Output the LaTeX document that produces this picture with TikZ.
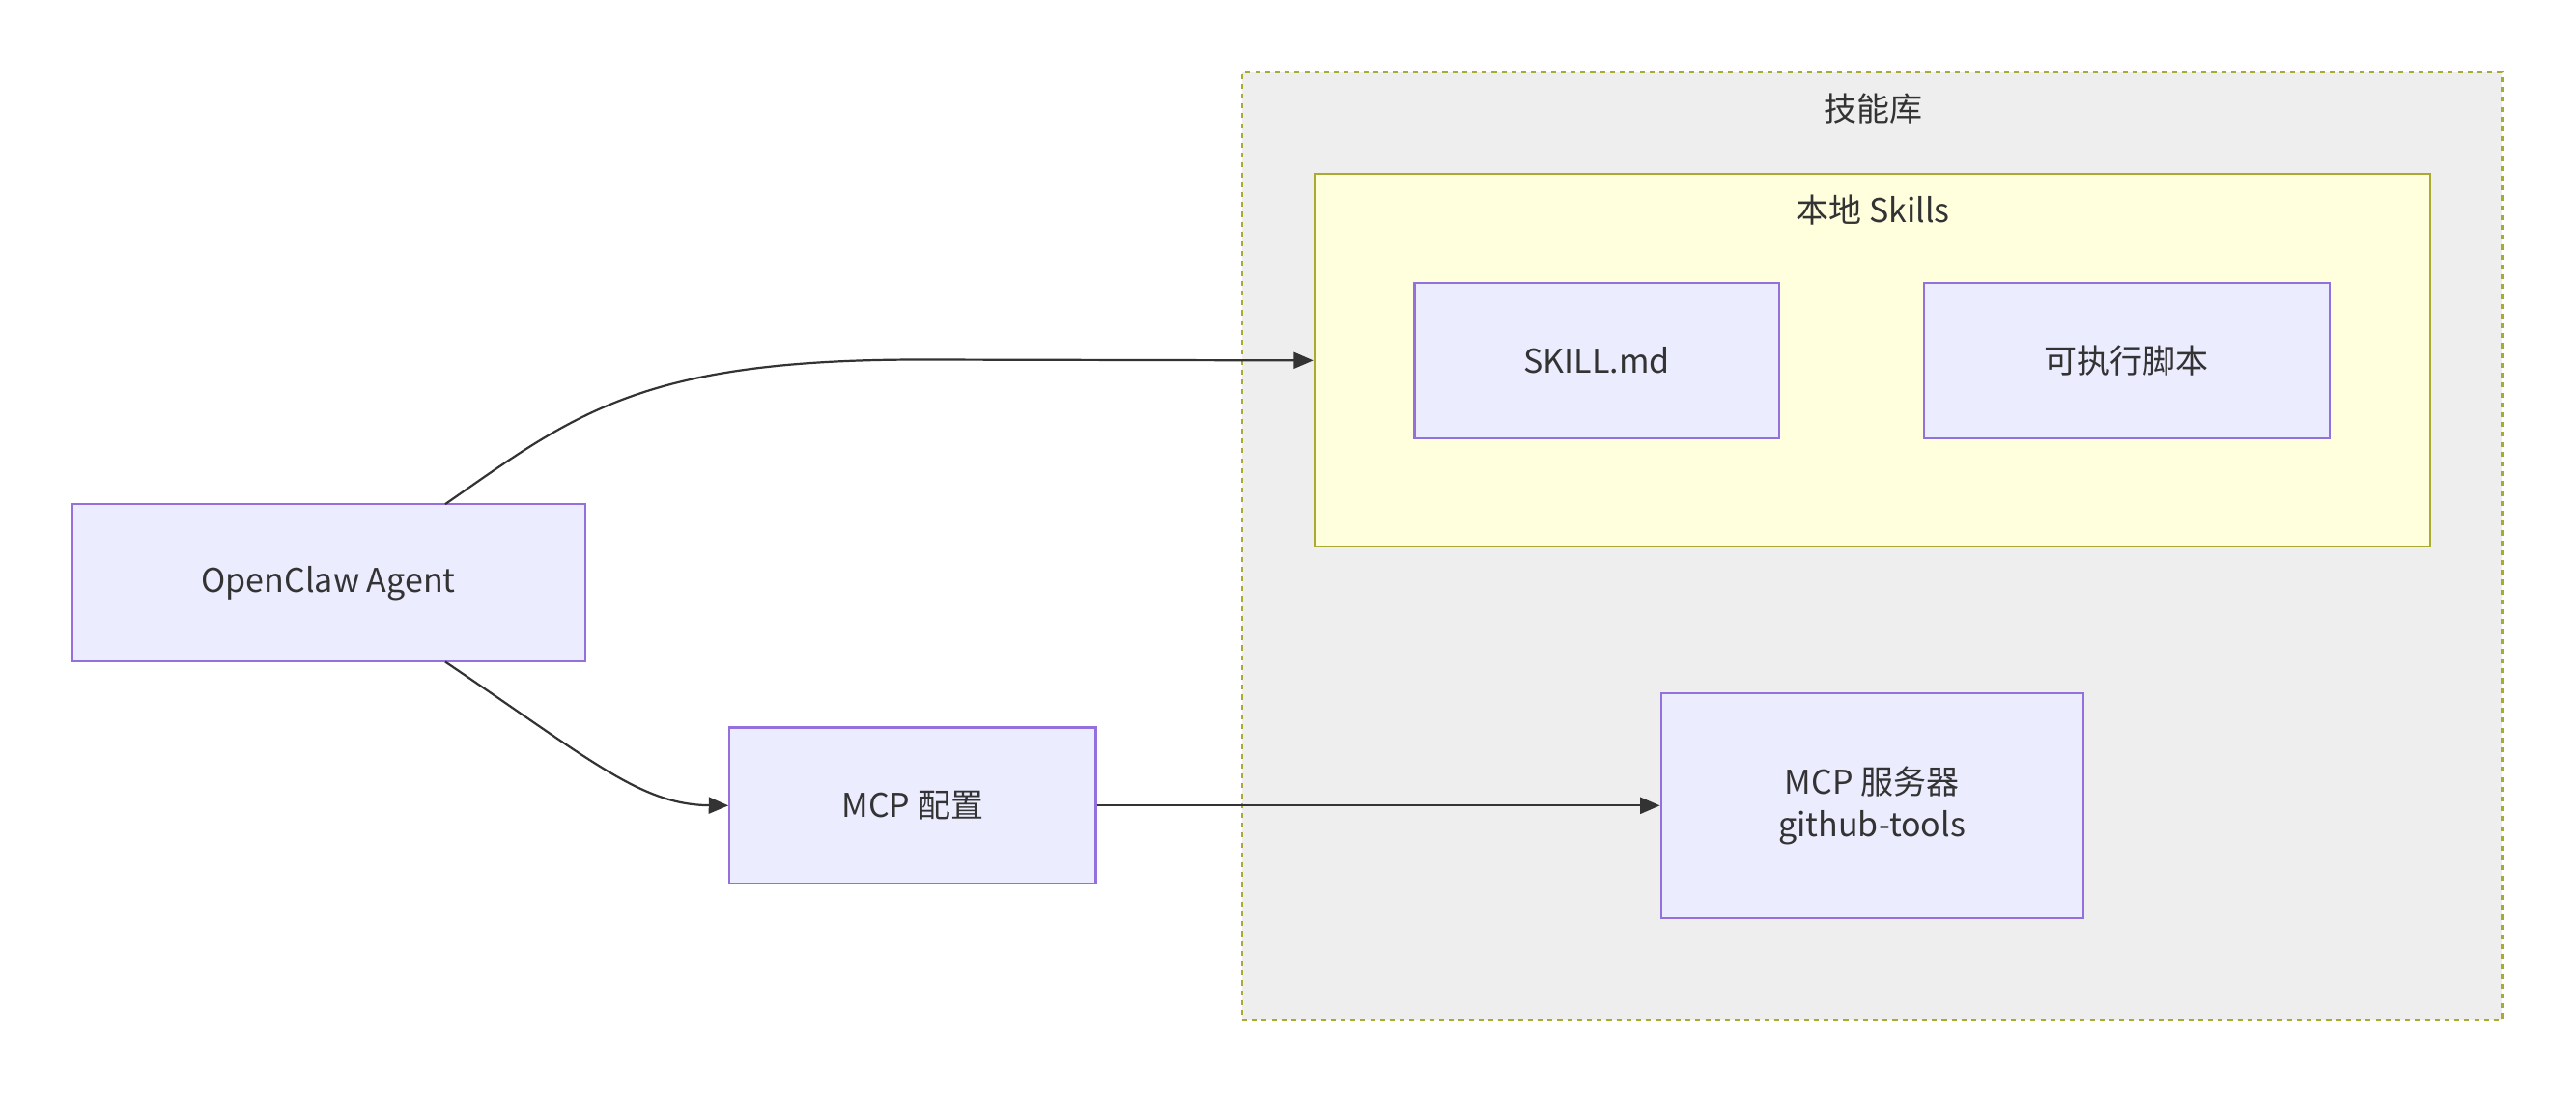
\documentclass[tikz,border=0pt]{standalone}
\usepackage{fontspec}
\setmainfont{Noto Sans CJK SC}
\usetikzlibrary{positioning, arrows.meta}
\definecolor{nodefill}{HTML}{ECECFF}
\definecolor{nodeline}{HTML}{9370DB}
\definecolor{clusterline}{HTML}{AAAA33}
\definecolor{innerfill}{HTML}{FFFFDE}
\definecolor{outerfill}{HTML}{EEEEEE}
\definecolor{edgecolor}{HTML}{333333}
\begin{document}
\begin{tikzpicture}[x=1pt,y=-1pt,font=\fontsize{20}{26}\selectfont,
    box/.style={draw=nodeline,fill=nodefill,line width=1.2pt,inner sep=0pt,align=center,text=edgecolor},
    flow/.style={draw=edgecolor,line width=1.3pt,-{Triangle[length=12pt,width=10pt]}}]

  \useasboundingbox (0,0) rectangle (1568,665);

  % clusters
  \node[draw=clusterline,fill=outerfill,dashed,line width=1.2pt,minimum width=767pt,minimum height=577pt,inner sep=0pt] (lib) at (1139.5,332.5) {};
  \node[text=edgecolor] at (1140,66) {技能库};
  \node[draw=clusterline,fill=innerfill,line width=1.2pt,minimum width=679pt,minimum height=227pt,inner sep=0pt] (local) at (1139.5,219.5) {};
  \node[text=edgecolor] at (1140,128) {本地 Skills};

  % nodes
  \node[box,minimum width=222pt,minimum height=95pt] (skill) at (972,219.5) {SKILL.md};
  \node[box,minimum width=247pt,minimum height=95pt] (script) at (1294.5,219.5) {可执行脚本};
  \node[box,minimum width=257pt,minimum height=137pt] (server) at (1139.5,490.5) {MCP 服务器\\github-tools};
  \node[box,minimum width=312pt,minimum height=96pt] (agent) at (200,355) {OpenClaw Agent};
  \node[box,minimum width=223pt,minimum height=95pt] (config) at (555.5,490.5) {MCP 配置};

  % edges
  \coordinate (a1) at (271,307);
  \coordinate (a2) at (271,403);
  \draw[flow] (a1) .. controls (350,252) and (390,219) .. (560,219) -- (local.west);
  \draw[flow] (a2) .. controls (360,463) and (390,490) .. (config.west);
  \draw[flow] (config.east) -- (server.west);
\end{tikzpicture}
\end{document}
